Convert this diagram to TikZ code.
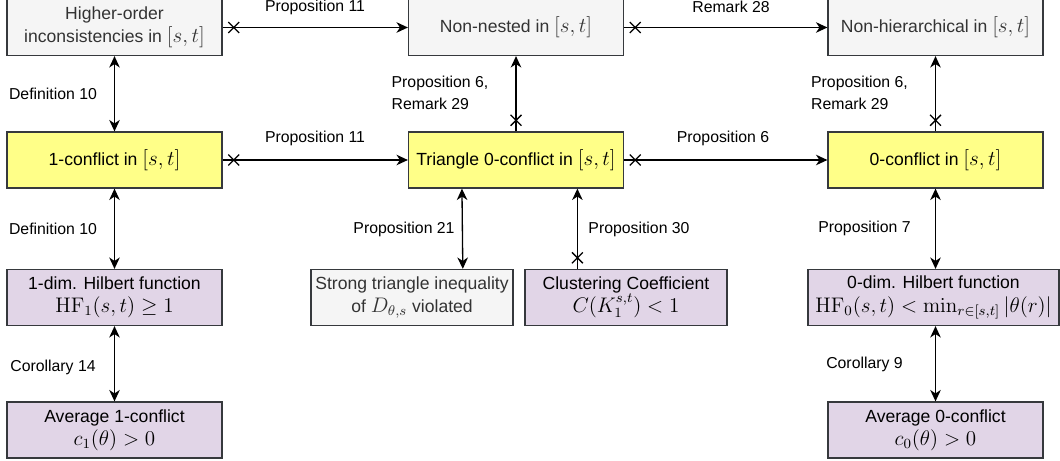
\documentclass[tikz,border=0pt]{standalone}
\usepackage[no-math]{fontspec}
\setmainfont{Liberation Sans}
\usepackage{tikz}
\usepackage{xcolor}
\usetikzlibrary{arrows.meta,calc}
\DeclareMathSizes{10}{11.5}{8.5}{7}

\definecolor{boxline}{HTML}{36393D}
\definecolor{boxgrey}{HTML}{F5F5F5}
\definecolor{boxyellow}{HTML}{FFFF88}
\definecolor{boxpurple}{HTML}{E1D5E7}
\definecolor{textgrey}{HTML}{333333}

% cross mark at the tail of a "not implied" connector
\pgfdeclarearrow{
    name = XMark,
    setup code = {
        \pgfarrowssettipend{0pt}
        \pgfarrowssetlineend{0pt}
        \pgfarrowssetbackend{-9.6pt}
    },
    drawing code = {
        \pgfsetdash{}{0pt}
        \pgfpathmoveto{\pgfqpoint{-9.4pt}{-3.1pt}}
        \pgfpathlineto{\pgfqpoint{-3.2pt}{3.1pt}}
        \pgfpathmoveto{\pgfqpoint{-9.4pt}{3.1pt}}
        \pgfpathlineto{\pgfqpoint{-3.2pt}{-3.1pt}}
        \pgfusepathqstroke
    },
    defaults = {}
}

\tikzset{
    box/.style = {
        draw            = boxline,
        line width      = 0.7pt,
        minimum width   = 4.3cm,
        minimum height  = 1.12cm,
        inner sep       = 1pt,
        align           = center,
        font            = \fontsize{10}{13.2}\selectfont,
    },
    greybox/.style   = {box, fill=boxgrey, text=textgrey},
    yellowbox/.style = {box, fill=boxyellow},
    purplebox/.style = {box, fill=boxpurple},
    lbl/.style = {
        align     = left,
        inner sep = 0pt,
        font      = \fontsize{9}{12.5}\selectfont,
    },
    both/.style = {
        line width = 0.75pt,
        {Stealth[length=6.5pt,width=6pt,inset=2pt]}-{Stealth[length=6.5pt,width=6pt,inset=2pt]},
    },
    notback/.style = {
        line width = 0.75pt,
        {XMark}-{Stealth[length=6.5pt,width=6pt,inset=2pt]},
    },
}

\begin{document}
\begin{tikzpicture}
  \useasboundingbox (0,0) rectangle (21.2,-9.22);

  % top row
  \node[greybox] (HigherOrder) at (2.29,-0.55) {Higher-order\\inconsistencies in $[s,t]$};
  \node[greybox] (NonNested) at (10.32,-0.55) {Non-nested in $[s,t]$};
  \node[greybox] (NonHierarchical) at (18.71,-0.55) {Non-hierarchical in $[s,t]$};

  \draw[notback] (HigherOrder) to (NonNested);
  \draw[notback] (NonNested) to (NonHierarchical);
  \node[lbl] (PropElevenTop) at (6.3,-0.14) {Proposition 11};
  \node[lbl] (RemarkTwentyEight) at (14.62,-0.14) {Remark 28};

  % conflict row
  \node[yellowbox] (OneConflict) at (2.29,-3.2) {1-conflict in $[s,t]$};
  \node[yellowbox] (TriangleConflict) at (10.32,-3.2) {Triangle 0-conflict in $[s,t]$};
  \node[yellowbox] (ZeroConflict) at (18.71,-3.2) {0-conflict in $[s,t]$};

  \draw[notback] (OneConflict) to (TriangleConflict);
  \draw[notback] (TriangleConflict) to (ZeroConflict);
  \node[lbl] (PropElevenMid) at (6.3,-2.76) {Proposition 11};
  \node[lbl] (PropSixMid) at (14.46,-2.76) {Proposition 6};

  \draw[both] (HigherOrder) to (OneConflict);
  \draw[notback] (TriangleConflict) to (NonNested);
  \draw[notback] (ZeroConflict) to (NonHierarchical);
  \node[lbl] (DefTenTop) at (1.06,-1.88) {Definition 10};
  \node[lbl] (PropSixLeft) at (8.8,-1.86) {Proposition 6,\\Remark 29};
  \node[lbl] (PropSixRight) at (17.19,-1.86) {Proposition 6,\\Remark 29};

  % characterisations
  \node[purplebox] (HilbertOne) at (2.29,-5.95) {1-dim. Hilbert function\\$\mathrm{HF}_1(s,t)\geq 1$};
  \node[greybox,minimum width=4.04cm] (StrongTriangle) at (8.24,-5.95) {Strong triangle inequality\\of $D_{\theta,s}$ violated};
  \node[purplebox,minimum width=4.04cm] (Clustering) at (12.52,-5.95) {Clustering Coefficient\\$C(K_1^{s,t})<1$};
  \node[purplebox,minimum width=5.02cm] (HilbertZero) at (18.67,-5.95) {0-dim. Hilbert function\\$\mathrm{HF}_0(s,t)<\min_{r\in[s,t]}|\theta(r)|$};

  \draw[both] (OneConflict) to (HilbertOne);
  \draw[both] ($(TriangleConflict.south west)!.25!(TriangleConflict.south east)$) to ($(StrongTriangle.north west)!.75!(StrongTriangle.north east)$);
  \draw[notback] ($(Clustering.north west)+(1.06,0)$) coordinate (ClusterTop) to (ClusterTop |- TriangleConflict.south);
  \draw[both] (ZeroConflict) to (ZeroConflict |- HilbertZero.north);
  \node[lbl] (DefTenBottom) at (1.06,-4.58) {Definition 10};
  \node[lbl] (PropTwentyOne) at (8.08,-4.58) {Proposition 21};
  \node[lbl] (PropThirty) at (12.78,-4.59) {Proposition 30};
  \node[lbl] (PropSeven) at (17.29,-4.56) {Proposition 7};

  % averages
  \node[purplebox] (AverageOne) at (2.29,-8.6) {Average 1-conflict\\$c_1(\theta)>0$};
  \node[purplebox] (AverageZero) at (18.71,-8.6) {Average 0-conflict\\$c_0(\theta)>0$};

  \draw[both] (HilbertOne) to (AverageOne);
  \draw[both] (HilbertZero.south -| AverageZero) to (AverageZero);
  \node[lbl] (CorFourteen) at (1.06,-7.34) {Corollary 14};
  \node[lbl] (CorNine) at (17.29,-7.28) {Corollary 9};

\end{tikzpicture}
\end{document}
